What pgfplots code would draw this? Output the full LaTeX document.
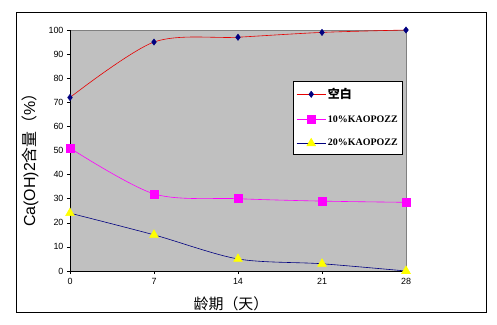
\documentclass[border=0pt]{standalone}
\usepackage{pgfplots}
\pgfplotsset{compat=1.18}
\usepackage{fontspec}
\setmainfont{Liberation Sans}
\newfontfamily\cjk{Noto Sans CJK SC}
\newfontfamily\lgd{Liberation Serif}
\definecolor{plotgray}{RGB}{192,192,192}
\definecolor{navyc}{RGB}{0,0,128}
\definecolor{magc}{RGB}{255,0,255}
\definecolor{yelc}{RGB}{255,255,0}
\definecolor{redc}{RGB}{230,0,0}
\begin{document}
\begin{tikzpicture}
\path[use as bounding box] (-70bp,-54bp) rectangle (427bp,271bp);
\draw[black, line width=0.8bp] (-54bp,-41bp) rectangle (416bp,259bp);
\begin{axis}[
  scale only axis, width=336bp, height=241bp,
  at={(0,0)}, anchor=south west,
  xmin=0, xmax=28, ymin=0, ymax=100,
  xtick={0,7,14,21,28}, ytick={0,10,...,100},
  axis lines=left, axis line style={-, black, line width=0.6bp},
  axis background/.style={fill=plotgray, draw={rgb,255:red,128;green,128;blue,128}},
  tick align=outside, major tick length=3bp,
  tick style={black, line width=0.5bp},
  /pgf/number format/assume math mode=true,
  ticklabel style={font=\fontsize{9}{10}\selectfont},
  xticklabel style={yshift=-1bp},
  xlabel={\cjk 龄期（天）},
  xlabel style={at={(axis description cs:0.5,0)}, anchor=center, xshift=-7bp, yshift=-33bp, font=\fontsize{15}{16}\selectfont},
  ylabel={Ca(OH)2{\cjk 含量（}\%{\cjk ）}},
  ylabel style={at={(axis description cs:0,0.5)}, anchor=center, yshift=40bp, xshift=-5.5bp, font=\fontsize{16}{17}\selectfont},
  legend style={at={(rel axis cs:0.664,0.788)}, anchor=north west, draw=black, fill=white, line width=0.6bp,
    font=\lgd\bfseries\fontsize{10}{11}\selectfont, row sep=11.5bp, inner xsep=3bp, inner ysep=5bp},
  legend cell align=left,
  legend image code/.code={\draw[#1, mark repeat=2, mark phase=2] plot coordinates {(0bp,0bp) (14.5bp,0bp) (29bp,0bp)};},
]
\addplot[redc, line width=0.6bp, smooth, mark=diamond*, mark size=3.2bp, mark options={fill=navyc, draw=navyc, line width=0.4bp}]
  coordinates {(0,72) (7,95) (14,97) (21,99) (28,100)};
\addlegendentry{{\cjk\bfseries\fontsize{12}{12}\selectfont 空白}}
\addplot[magc, line width=0.6bp, smooth, mark=square*, mark size=4bp, mark options={fill=magc, draw=magc}]
  coordinates {(0,51) (7,32) (14,30) (21,29) (28,28.5)};
\addlegendentry{10\%KAOPOZZ}
\addplot[navyc, line width=0.6bp, smooth, mark=triangle*, mark size=5bp, mark options={fill=yelc, draw=yelc}]
  coordinates {(0,24) (7,15) (14,5) (21,3) (28,0)};
\addlegendentry{20\%KAOPOZZ}
\end{axis}
\end{tikzpicture}
\end{document}
